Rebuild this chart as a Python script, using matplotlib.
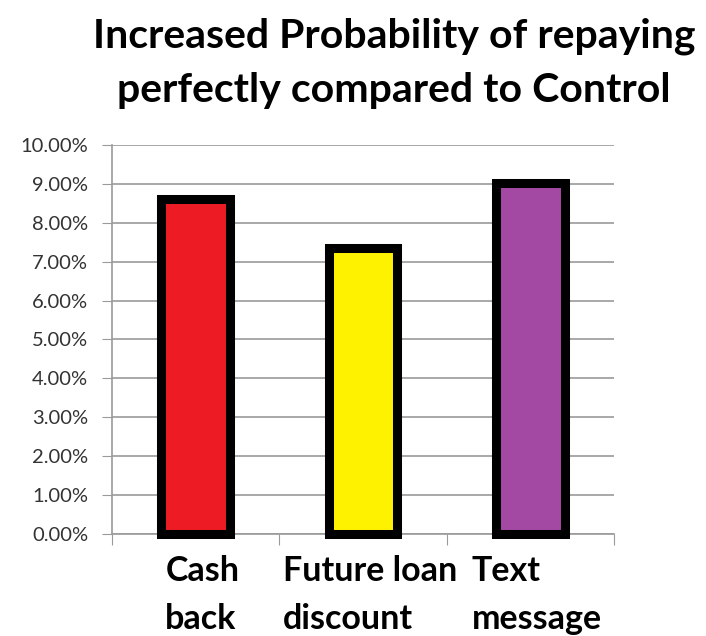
"""Bar chart: increased probability of repaying perfectly vs. control."""
import matplotlib.pyplot as plt
import numpy as np
from matplotlib.ticker import FuncFormatter, FixedLocator

categories = ["Cash\nback", "Future loan\ndiscount", "Text\nmessage"]
increase_pct = [8.6, 7.34, 9.02]
bar_colors = ["#ED1C24", "#FFF200", "#A349A4"]

title = "Increased Probability of repaying\nperfectly compared to Control"


def main() -> None:
    plt.rcParams["font.family"] = ["Lato", "DejaVu Sans"]

    fig = plt.figure(figsize=(7.06, 6.36), dpi=100)
    ax = fig.add_axes([0.1586, 0.1604, 0.8697 - 0.1586, 0.772 - 0.1604])

    x = np.arange(len(categories))
    bars = ax.bar(
        x,
        increase_pct,
        width=0.41,
        color=bar_colors,
        edgecolor="black",
        linewidth=6.5,
        zorder=3,
    )
    for b in bars:
        b.set_clip_on(False)

    ax.set_xlim(-0.5, len(categories) - 0.5)
    ax.set_ylim(0, 10)
    ax.set_yticks(np.arange(0, 10.01, 1))
    ax.yaxis.set_major_formatter(FuncFormatter(lambda v, _: f"{v:.2f}%"))
    ax.yaxis.grid(True, color="#9a9a9a", linewidth=1.2, zorder=0)
    ax.tick_params(axis="y", length=7, color="#9a9a9a", labelsize=14.5,
                   labelcolor="#333333", pad=10)

    # category boundaries carry the x ticks; labels sit at bar centres
    ax.xaxis.set_major_locator(FixedLocator(np.arange(-0.5, len(categories), 1)))
    ax.set_xticklabels([])
    ax.tick_params(axis="x", length=8, color="#9a9a9a")
    for xi, label in zip(x, categories):
        ax.text(xi + 0.04, -0.55, label, ha="center", va="top", multialignment="left",
                fontsize=24.5, fontweight="bold", linespacing=1.6)

    for side in ["top", "right"]:
        ax.spines[side].set_visible(False)
    for side in ["left", "bottom"]:
        ax.spines[side].set_color("#9a9a9a")
        ax.spines[side].set_linewidth(1.2)

    fig.text(0.558, 0.972, title, ha="center", va="top", fontsize=29.5,
             fontweight="bold", linespacing=1.56)

    fig.savefig("out.png", dpi=100)


if __name__ == "__main__":
    main()
